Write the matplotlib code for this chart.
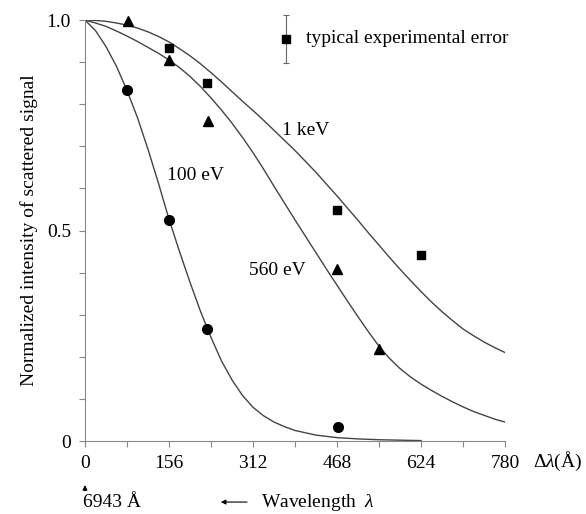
import numpy as np
import matplotlib.pyplot as plt

plt.rcParams['font.family'] = ['Liberation Serif', 'DejaVu Serif']
plt.rcParams['mathtext.fontset'] = 'custom'
plt.rcParams['mathtext.it'] = 'Liberation Serif:italic'
plt.rcParams['mathtext.rm'] = 'Liberation Serif'

# measured points
x_100 = [78, 156, 227, 470]
y_100 = [0.833, 0.524, 0.267, 0.034]
x_560 = [79, 156, 228, 468, 546]
y_560 = [0.998, 0.905, 0.76, 0.409, 0.218]
x_1k = [156, 227, 467, 623]
y_1k = [0.933, 0.851, 0.549, 0.442]

# theory curves
cx_100 = [0, 19.5, 39, 58.5, 78, 97.5, 117, 136.5, 156, 175.5, 195, 214.5, 234,
          253.5, 273, 292.5, 312, 331.5, 351, 370.5, 390, 429, 468, 507, 546, 585, 624]
cy_100 = [1.0, 0.975, 0.937, 0.89, 0.833, 0.768, 0.693, 0.612, 0.527, 0.45, 0.377,
          0.308, 0.246, 0.19, 0.145, 0.108, 0.08, 0.06, 0.045, 0.034, 0.025, 0.014,
          0.008, 0.005, 0.003, 0.002, 0.001]
cx_grid = [0, 19.5, 39, 58.5, 78, 97.5, 117, 136.5, 156, 175.5, 195, 214.5, 234,
           253.5, 273, 292.5, 312, 331.5, 351, 370.5, 390, 409.5, 429, 448.5, 468,
           487.5, 507, 526.5, 546, 565.5, 585, 604.5, 624, 643.5, 663, 682.5, 702,
           721.5, 741, 760.5, 780]
cy_560 = [1.0, 0.993, 0.985, 0.974, 0.962, 0.949, 0.935, 0.921, 0.905, 0.887, 0.866,
          0.842, 0.815, 0.786, 0.755, 0.721, 0.685, 0.646, 0.605, 0.565, 0.525, 0.486,
          0.447, 0.408, 0.37, 0.332, 0.295, 0.259, 0.225, 0.196, 0.172, 0.152, 0.135,
          0.12, 0.106, 0.093, 0.081, 0.07, 0.061, 0.052, 0.045]
cy_1k = [1.0, 0.999, 0.997, 0.993, 0.988, 0.981, 0.972, 0.961, 0.948, 0.932, 0.915,
         0.896, 0.875, 0.853, 0.83, 0.807, 0.785, 0.762, 0.738, 0.714, 0.69, 0.664,
         0.638, 0.61, 0.582, 0.553, 0.524, 0.494, 0.465, 0.436, 0.408, 0.381, 0.355,
         0.33, 0.307, 0.286, 0.266, 0.25, 0.235, 0.222, 0.21]

xticks = [0, 78, 156, 234, 312, 390, 468, 546, 624, 702, 780]
yticks = [0, 0.1, 0.2, 0.3, 0.4, 0.5, 0.6, 0.7, 0.8, 0.9, 1.0]

err_x, err_y, err_dy = 373, 0.956, 0.057

fs = 14
fig = plt.figure(figsize=(5.86, 5.14), dpi=100)
ax = fig.add_axes([0.145, 0.142, 0.717, 0.819])

lc = '#444444'
ax.plot(cx_100, cy_100, color=lc, lw=1.0)
ax.plot(cx_grid, cy_560, color=lc, lw=1.0)
ax.plot(cx_grid, cy_1k, color=lc, lw=1.0)

ax.plot(x_100, y_100, 'o', color='black', ms=7, clip_on=False)
ax.plot(x_560, y_560, '^', color='black', ms=7, clip_on=False)
ax.plot(x_1k, y_1k, 's', color='black', ms=6, clip_on=False)

ax.errorbar([err_x], [err_y], yerr=[err_dy], fmt='s', color='black', ms=6,
            ecolor='#666666', elinewidth=0.8, capsize=2, capthick=0.8, clip_on=False)
ax.text(410, err_y, 'typical experimental error', fontsize=fs, va='center')

ax.text(366, 0.738, '1 keV', fontsize=fs, va='center')
ax.text(152, 0.631, '100 eV', fontsize=fs, va='center')
ax.text(305, 0.406, '560 eV', fontsize=fs, va='center')

ax.set_xlim(0, 780)
ax.set_ylim(0, 1)
ax.set_xticks(xticks)
ax.set_xticklabels([str(v) if v % 156 == 0 else '' for v in xticks])
ax.set_yticks(yticks)
ax.set_yticklabels(['0' if v == 0 else ('%.1f' % v if v in (0.5, 1.0) else '') for v in yticks])
ax.tick_params(length=4, width=0.8, color='#888888', labelsize=fs, pad=6)

for s in ['top', 'right']:
    ax.spines[s].set_visible(False)
for s in ['left', 'bottom']:
    ax.spines[s].set_color('#888888')
    ax.spines[s].set_linewidth(0.8)

ax.set_ylabel('Normalized intensity of scattered signal', fontsize=fs, labelpad=6)
ax.text(1.066, -0.048, r'Δ$\lambda$(Å)', transform=ax.transAxes, fontsize=fs,
        va='center', ha='left')

ax.annotate('', xy=(0, -0.098), xytext=(0, -0.125), xycoords=('data', 'axes fraction'),
            textcoords=('data', 'axes fraction'),
            arrowprops=dict(arrowstyle='-|>', color='black', lw=0.8, mutation_scale=7))
ax.text(-3, -0.145, '6943 Å', transform=ax.get_xaxis_transform(), fontsize=fs,
        va='center', ha='left')
ax.annotate('', xy=(247, -0.145), xytext=(306, -0.145), xycoords=('data', 'axes fraction'),
            textcoords=('data', 'axes fraction'),
            arrowprops=dict(arrowstyle='-|>', color='black', lw=0.8, mutation_scale=7))
ax.text(326, -0.145, r'Wavelength  $\lambda$', transform=ax.get_xaxis_transform(),
        fontsize=fs, va='center', ha='left')

fig.savefig('out.png', dpi=100)
